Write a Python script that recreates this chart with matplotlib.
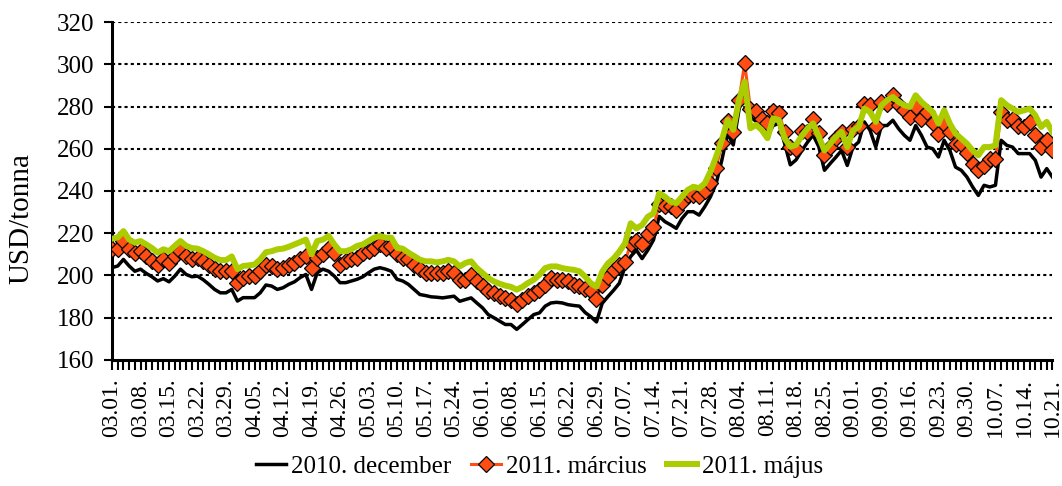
'''USD/tonna price curves for three contracts, 2011 trading days
'''
import matplotlib
matplotlib.use("Agg")
import matplotlib.pyplot as plt
from matplotlib.ticker import MultipleLocator

plt.rcParams['font.family'] = ['Liberation Serif', 'DejaVu Serif']

# one tick label every 5 trading days
date_labels = ['03.01.', '03.08.', '03.15.', '03.22.', '03.29.', '04.05.', '04.12.',
               '04.19.', '04.26.', '05.03.', '05.10.', '05.17.', '05.24.', '06.01.',
               '06.08.', '06.15.', '06.22.', '06.29.', '07.07.', '07.14.', '07.21.',
               '07.28.', '08.04.', '08.11.', '08.18.', '08.25.', '09.01.', '09.09.',
               '09.16.', '09.23.', '09.30.', '10.07.', '10.14.', '10.21.']

dec_2010 = [203.7, 204.5, 207.6, 204.5, 202.0, 203.0, 201.0, 199.4, 197.4, 198.5,
            197.0, 199.7, 203.0, 200.5, 199.4, 199.7, 198.0, 195.8, 193.4, 191.8,
            191.8, 193.4, 187.9, 189.5, 189.5, 189.5, 191.8, 195.5, 195.0, 193.4,
            194.2, 195.8, 197.0, 199.0, 200.5, 193.4, 201.3, 203.0, 202.0, 199.7,
            196.6, 196.6, 197.4, 198.2, 199.4, 201.3, 203.0, 203.7, 203.0, 202.0,
            198.2, 197.4, 195.8, 193.4, 191.0, 190.5, 189.9, 189.7, 189.4, 189.8,
            190.2, 187.8, 188.6, 189.4, 187.0, 184.7, 181.5, 180.0, 178.4, 176.8,
            176.8, 174.5, 176.8, 179.2, 181.5, 182.3, 185.5, 187.0, 187.3, 187.0,
            186.2, 185.8, 185.5, 182.5, 180.5, 178.0, 186.8, 190.0, 193.0, 196.3,
            204.0, 209.0, 212.0, 208.0, 212.0, 216.8, 228.0, 225.5, 224.0, 222.3,
            227.0, 230.2, 230.2, 228.6, 232.6, 237.3, 243.6, 254.7, 267.3, 261.8,
            278.4, 290.0, 275.0, 273.0, 269.0, 266.0, 271.0, 272.0, 262.6, 252.4,
            254.7, 259.0, 263.0, 266.5, 261.0, 249.8, 253.0, 256.0, 259.2, 252.1,
            260.8, 263.2, 272.7, 268.7, 260.8, 271.0, 271.0, 273.5, 269.5, 266.4,
            264.0, 271.0, 266.4, 260.8, 260.0, 256.1, 264.0, 259.2, 251.3, 249.8,
            246.6, 241.9, 237.9, 242.7, 241.9, 242.7, 264.0, 261.6, 260.8, 257.7,
            257.7, 257.7, 254.5, 246.6, 250.6, 246.6]

mar_2011 = [212.4, 212.7, 216.3, 212.4, 210.5, 211.5, 209.0, 207.0, 205.2, 207.6,
            206.0, 209.0, 211.5, 209.0, 207.6, 208.4, 206.8, 205.2, 202.9, 202.0,
            202.0, 202.0, 196.6, 199.0, 199.7, 199.7, 202.0, 205.0, 204.5, 203.0,
            203.7, 204.8, 206.0, 207.6, 209.2, 203.7, 208.4, 210.0, 213.0, 210.8,
            205.2, 206.8, 207.6, 208.4, 210.8, 211.5, 213.0, 214.7, 213.0, 214.0,
            210.0, 208.4, 207.6, 205.2, 203.0, 201.2, 201.0, 201.0, 201.2, 202.0,
            201.0, 198.0, 198.0, 200.4, 197.2, 194.9, 192.5, 191.7, 190.2, 189.4,
            188.6, 186.3, 188.6, 190.2, 191.7, 193.3, 195.7, 198.8, 198.0, 198.0,
            197.2, 195.7, 194.9, 193.5, 192.5, 189.0, 195.5, 199.4, 202.5, 205.0,
            206.5, 215.0, 216.5, 215.0, 219.7, 222.8, 234.0, 233.0, 232.7, 231.0,
            235.0, 238.0, 238.0, 237.5, 240.0, 244.0, 251.0, 262.5, 273.0, 268.0,
            283.0, 300.5, 279.0, 278.0, 274.0, 272.0, 278.0, 277.0, 268.0, 261.0,
            260.0, 268.5, 268.0, 274.0, 267.5, 257.0, 261.0, 265.0, 268.0, 261.0,
            269.5, 271.0, 281.4, 280.6, 271.0, 282.2, 281.4, 285.3, 280.6, 278.2,
            275.0, 279.8, 274.2, 277.4, 272.0, 267.2, 271.9, 268.0, 262.4, 262.4,
            258.0, 252.9, 249.8, 252.0, 255.3, 255.3, 277.4, 273.5, 274.2, 271.0,
            270.3, 272.7, 266.4, 260.8, 264.0, 259.3]

maj_2011 = [217.4, 218.0, 221.0, 217.0, 215.5, 216.3, 214.7, 213.0, 210.8, 212.4,
            211.5, 214.0, 216.3, 214.0, 213.0, 212.7, 211.5, 210.0, 208.4, 207.3,
            207.3, 209.0, 203.0, 204.5, 204.8, 205.2, 207.6, 211.0, 211.5, 212.4,
            212.7, 213.6, 214.7, 215.8, 217.0, 210.0, 216.3, 217.0, 218.7, 214.7,
            211.5, 211.5, 212.4, 214.0, 214.7, 216.3, 217.9, 218.7, 217.9, 217.9,
            213.1, 212.7, 210.8, 209.2, 207.5, 206.7, 206.7, 206.2, 206.7, 207.4,
            206.7, 204.3, 205.9, 206.7, 203.5, 201.2, 198.8, 197.2, 196.1, 195.2,
            194.6, 193.3, 194.6, 196.5, 198.0, 200.4, 203.5, 204.3, 204.3, 203.5,
            203.0, 202.7, 202.0, 199.5, 196.3, 194.7, 201.8, 205.7, 208.0, 211.3,
            215.2, 224.7, 222.3, 223.9, 227.8, 229.4, 238.9, 237.3, 235.0, 234.2,
            237.3, 240.5, 242.0, 241.3, 243.6, 249.2, 256.3, 264.2, 273.6, 269.0,
            283.0, 291.8, 269.7, 271.3, 268.9, 265.0, 274.4, 273.6, 265.0, 261.0,
            261.8, 266.0, 269.5, 272.0, 265.7, 259.2, 262.4, 265.6, 268.0, 260.8,
            268.7, 270.3, 279.0, 277.4, 272.7, 280.6, 283.0, 284.5, 282.2, 280.6,
            279.8, 285.3, 282.2, 279.8, 277.4, 271.9, 278.2, 271.9, 267.2, 264.8,
            262.4, 259.2, 256.9, 260.8, 260.8, 261.6, 283.0, 280.6, 279.0, 277.4,
            278.2, 279.0, 275.8, 270.3, 272.7, 268.0]

DEC_COLOR = '#000000'
MAR_COLOR = '#FF4D14'
MAJ_COLOR = '#AACC00'


def price_chart(img_name='out.png'):
    x = list(range(len(dec_2010)))
    fig = plt.figure(figsize=(10.62, 4.86), dpi=100)
    ax = fig.add_axes([0.1055, 0.2593, 0.8855, 0.6954])

    ax.plot(x, dec_2010, color=DEC_COLOR, lw=2.5, label='2010. december', zorder=3)
    ax.plot(x, mar_2011, color=MAR_COLOR, lw=2.2, marker='D', markersize=8,
            markerfacecolor=MAR_COLOR, markeredgecolor='black', markeredgewidth=0.9,
            label='2011. március', zorder=4)
    ax.plot(x, maj_2011, color=MAJ_COLOR, lw=4.3, label='2011. május', zorder=5)

    ax.set_xlim(0, len(x) - 1)
    ax.set_ylim(160, 320)
    ax.yaxis.set_major_locator(MultipleLocator(20))
    ax.set_xticks(range(0, len(x), 5))
    ax.set_xticklabels(date_labels, rotation=90, fontsize=17)
    ax.xaxis.set_minor_locator(MultipleLocator(1))
    ax.tick_params(axis='x', which='both', direction='out', length=7, width=1.5, pad=6)
    ax.tick_params(axis='y', direction='out', length=6, width=1.5, labelsize=18, pad=7)

    for val in range(180, 321, 20):
        ax.axhline(val, color='black', lw=1.5, ls=(0, (1.5, 1.5)), zorder=1)

    for side in ['top', 'right']:
        ax.spines[side].set_visible(False)
    for side in ['left', 'bottom']:
        ax.spines[side].set_linewidth(2.2)

    ax.set_ylabel('USD/tonna', fontsize=21)
    ax.yaxis.set_label_coords(-0.082, 0.42)

    fig.legend(loc='lower center', bbox_to_anchor=(0.508, -0.03), ncol=3, frameon=False,
               fontsize=18, handlelength=1.2, handletextpad=0.2, columnspacing=0.8)
    fig.savefig(img_name, dpi=100)


if __name__ == '__main__':
    price_chart()
